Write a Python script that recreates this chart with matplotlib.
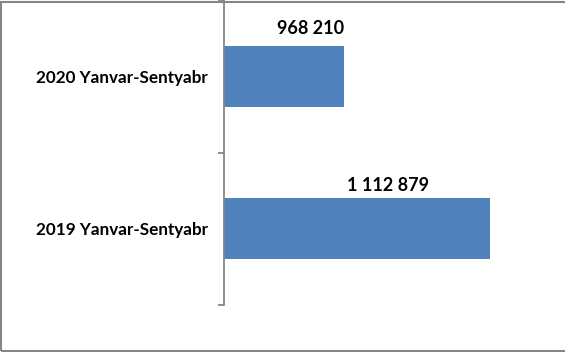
import matplotlib
matplotlib.use("Agg")
import matplotlib.pyplot as plt
from matplotlib.patches import Rectangle

categories = ["2019 Yanvar-Sentyabr", "2020 Yanvar-Sentyabr"]
values = [1112879, 968210]
value_labels = ["1 112 879", "968 210"]

W, H = 565, 352
DPI = 100
fig = plt.figure(figsize=(W / DPI, H / DPI), dpi=DPI)
plt.rcParams['font.family'] = ['Lato', 'DejaVu Sans']

# figure border
fig.patches.append(Rectangle((1 / W, 1 / H), (W + 5) / W, (H - 2.5) / H,
                             transform=fig.transFigure, fill=False,
                             edgecolor="#868686", linewidth=1.5))

ax_left, ax_right, ax_top, ax_bottom = 224, 555, 0, 305
ax = fig.add_axes([ax_left / W, 1 - ax_bottom / H,
                   (ax_right - ax_left) / W, (ax_bottom - ax_top) / H])

px = 990.9
xmin = 849300
ax.set_xlim(xmin, xmin + (ax_right - ax_left) * px)
ax.set_ylim(-0.5, 1.5)

y = list(range(len(categories)))
ax.barh(y, values, height=0.4, left=0, color="#4F81BD", zorder=2)

for s in ["top", "right", "bottom"]:
    ax.spines[s].set_visible(False)
ax.spines["left"].set_color("#868686")
ax.spines["left"].set_linewidth(1.3)
ax.set_xticks([])
ax.set_yticks(y)
ax.set_yticklabels(categories, fontsize=12.3, fontweight="bold")
ax.tick_params(axis="y", which="major", length=0, pad=11.5)
ax.set_yticks([-0.5, 0.5, 1.5], minor=True)
ax.tick_params(axis="y", which="minor", length=4.5, width=1.3, color="#868686")

# label offsets in pixels relative to bar end / bar top
offsets = [(-102, 13), (-33, 17.5)]
for yi, v, lab, (dx, dy) in zip(y, values, value_labels, offsets):
    ax.annotate(lab, xy=(v, yi + 0.2), xytext=(dx * 72 / DPI, dy * 72 / DPI),
                textcoords="offset points", ha="center", va="center",
                fontsize=13, fontweight="bold")

fig.savefig("out.png", dpi=DPI)
